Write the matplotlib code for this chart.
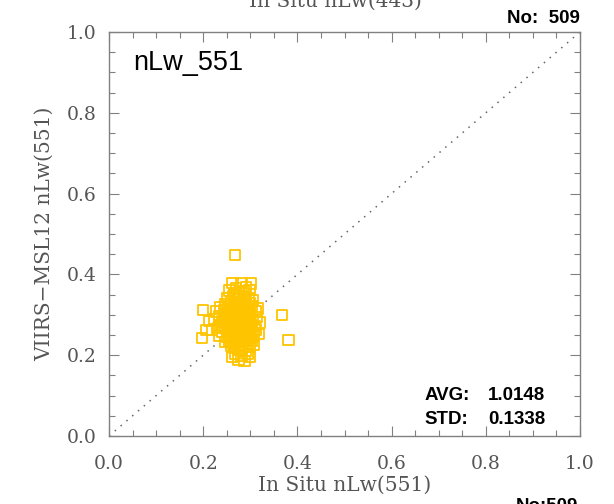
import matplotlib
matplotlib.use("Agg")
import matplotlib.pyplot as plt
from matplotlib.ticker import MultipleLocator

# in situ vs satellite nLw(551)
pts = [
    # top band
    (0.262, 0.378), (0.281, 0.379), (0.302, 0.377), (0.270, 0.366), (0.291, 0.369),
    (0.256, 0.360), (0.298, 0.362), (0.276, 0.356), (0.286, 0.358), (0.266, 0.352),
    # 0.33-0.35
    (0.252, 0.342), (0.263, 0.347), (0.274, 0.338), (0.285, 0.345), (0.296, 0.340),
    (0.305, 0.336), (0.259, 0.333), (0.280, 0.331), (0.291, 0.334), (0.269, 0.329),
    (0.300, 0.328), (0.247, 0.326),
    # 0.30-0.33
    (0.236, 0.318), (0.245, 0.311), (0.254, 0.322), (0.262, 0.315), (0.271, 0.320),
    (0.279, 0.312), (0.288, 0.318), (0.296, 0.313), (0.304, 0.321), (0.311, 0.309),
    (0.250, 0.304), (0.267, 0.306), (0.284, 0.303), (0.293, 0.307), (0.275, 0.326),
    (0.258, 0.309), (0.300, 0.302), (0.228, 0.308), (0.315, 0.316), (0.282, 0.323),
    # 0.27-0.30
    (0.224, 0.289), (0.233, 0.296), (0.241, 0.284), (0.249, 0.292), (0.257, 0.286),
    (0.265, 0.297), (0.273, 0.289), (0.281, 0.294), (0.289, 0.283), (0.297, 0.291),
    (0.305, 0.287), (0.313, 0.295), (0.320, 0.281), (0.253, 0.276), (0.270, 0.279),
    (0.286, 0.272), (0.294, 0.299), (0.261, 0.273), (0.278, 0.284), (0.302, 0.276),
    (0.237, 0.274), (0.310, 0.272), (0.245, 0.298), (0.276, 0.299),
    # 0.24-0.27
    (0.219, 0.262), (0.231, 0.268), (0.240, 0.257), (0.248, 0.265), (0.256, 0.253),
    (0.264, 0.267), (0.272, 0.258), (0.280, 0.263), (0.288, 0.255), (0.296, 0.266),
    (0.304, 0.259), (0.312, 0.264), (0.318, 0.252), (0.252, 0.245), (0.268, 0.243),
    (0.284, 0.248), (0.300, 0.244), (0.235, 0.247), (0.276, 0.251), (0.292, 0.241),
    (0.260, 0.260), (0.308, 0.249), (0.244, 0.270), (0.283, 0.269),
    # 0.21-0.24
    (0.255, 0.236), (0.263, 0.228), (0.271, 0.234), (0.279, 0.226), (0.287, 0.233),
    (0.295, 0.229), (0.303, 0.235), (0.266, 0.219), (0.282, 0.216), (0.298, 0.221),
    (0.274, 0.213), (0.290, 0.212), (0.259, 0.224), (0.247, 0.232), (0.307, 0.226),
    # bottom
    (0.268, 0.204), (0.281, 0.198), (0.294, 0.203), (0.275, 0.189), (0.288, 0.186),
    (0.300, 0.195), (0.262, 0.196),
    # dense centre
    (0.270, 0.300), (0.278, 0.292), (0.286, 0.305), (0.274, 0.282), (0.283, 0.276),
    (0.268, 0.287), (0.291, 0.293), (0.279, 0.270), (0.272, 0.310), (0.288, 0.266),
    (0.265, 0.280), (0.281, 0.308), (0.277, 0.262), (0.290, 0.279), (0.269, 0.256),
    (0.284, 0.259), (0.273, 0.246), (0.287, 0.240), (0.279, 0.238), (0.266, 0.240),
    (0.282, 0.316), (0.275, 0.330), (0.288, 0.326), (0.268, 0.320), (0.294, 0.314),
    (0.261, 0.300), (0.297, 0.272), (0.258, 0.264), (0.299, 0.258), (0.276, 0.344),
    (0.263, 0.290), (0.285, 0.287), (0.271, 0.268), (0.292, 0.262), (0.266, 0.310),
    (0.289, 0.338), (0.271, 0.348), (0.257, 0.244), (0.296, 0.248), (0.280, 0.282),
    # outliers
    (0.268, 0.448), (0.367, 0.300), (0.381, 0.238), (0.200, 0.312), (0.197, 0.243),
    (0.207, 0.262), (0.212, 0.285),
]
insitu = [p[0] for p in pts]
viirs = [p[1] for p in pts]

n_obs = "509"
avg = "1.0148"
std = "0.1338"

axis_gray = "#808080"
label_gray = "#555555"
serif = "DejaVu Serif"
sans = "Liberation Sans"

fig = plt.figure(figsize=(6.14, 5.04), dpi=100)
ax = fig.add_axes([109 / 614, 1 - 436 / 504, 471 / 614, 404 / 504])

ax.plot([0, 1], [0, 1], ls=(0, (1, 4)), color="#666666", lw=1.1)
ax.scatter(insitu, viirs, marker="s", s=56, facecolors="none",
           edgecolors="#FFC400", linewidths=1.3, zorder=3)

ax.set_xlim(0, 1)
ax.set_ylim(0, 1)
ax.xaxis.set_major_locator(MultipleLocator(0.2))
ax.yaxis.set_major_locator(MultipleLocator(0.2))
ax.xaxis.set_minor_locator(MultipleLocator(0.05))
ax.yaxis.set_minor_locator(MultipleLocator(0.05))
ax.tick_params(which="both", direction="in", top=True, right=True, color=axis_gray)
ax.tick_params(which="major", length=7, width=0.8, labelsize=13.5, labelcolor=label_gray)
ax.tick_params(which="minor", length=4, width=0.8)
ax.tick_params(axis="x", which="major", pad=14)
ax.tick_params(axis="y", which="major", pad=9)
for s in ax.spines.values():
    s.set_color(axis_gray)
    s.set_linewidth(1)
for lab in ax.get_xticklabels() + ax.get_yticklabels():
    lab.set_family(serif)

ax.set_xlabel("In Situ nLw(551)", family=serif, fontsize=14.5, color=label_gray, labelpad=2)
ax.set_ylabel("VIIRS\u2212MSL12 nLw(551)", family=serif, fontsize=14.5, color=label_gray, labelpad=9)

ax.text(0.052, 0.923, "nLw_551", transform=ax.transAxes, fontsize=19.5,
        family=sans, va="center", ha="left")
ax.text(1.0, 1.012, "No:  " + n_obs, transform=ax.transAxes, fontsize=13.5,
        family=sans, weight="bold", ha="right", va="bottom")
ax.text(0.670, 0.101, "AVG:", transform=ax.transAxes, fontsize=13.5,
        family=sans, weight="bold", va="center")
ax.text(0.805, 0.101, avg, transform=ax.transAxes, fontsize=13.5,
        family=sans, weight="bold", va="center")
ax.text(0.670, 0.040, "STD:", transform=ax.transAxes, fontsize=13.5,
        family=sans, weight="bold", va="center")
ax.text(0.805, 0.040, std, transform=ax.transAxes, fontsize=13.5,
        family=sans, weight="bold", va="center")

# bits of the neighbouring panels, cut off at the edges
fig.text(335 / 614, 1 - 1.5 / 504, "In Situ nLw(443)", family=serif, fontsize=14.5,
         color=label_gray, ha="center", va="center")
fig.text(578 / 614, 6 / 504, "No:509", family=sans, weight="bold",
         fontsize=13.5, ha="right", va="top")

fig.savefig("out.png", dpi=100)
